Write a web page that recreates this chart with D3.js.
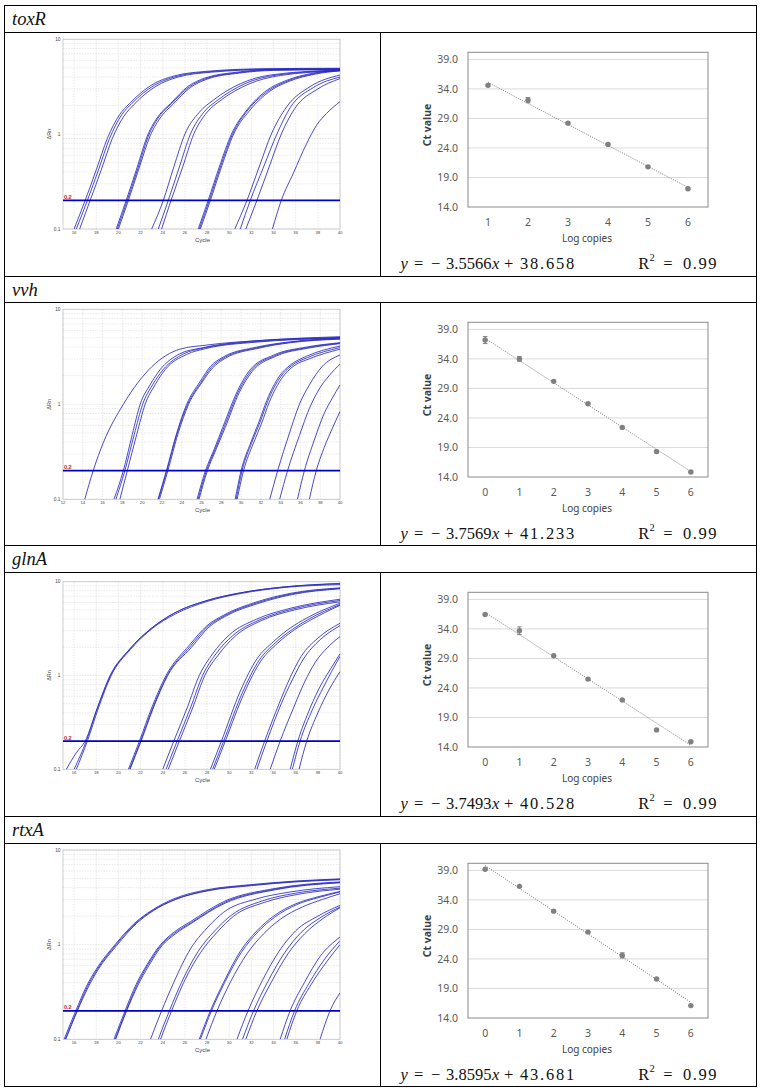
<!DOCTYPE html>
<html><head><meta charset="utf-8">
<script src="https://cdn.jsdelivr.net/npm/d3@7"></script>
<style>body{margin:0;background:#fff;} svg{display:block;}</style>
</head><body>
<svg id="chart" width="760" height="1092"></svg>
<script>
// ---------------- DATA ----------------
const genes = ["toxR", "vvh", "glnA", "rtxA"];

// amplification plots (cycle, ΔRn)
const ampCycleStart = [15, 12, 15, 15];
const ampCycleEnd = 40;
const ampXTicks_toxR = [16,18,20,22,24,26,28,30,32,34,36,38,40];
const ampXTicks_vvh  = [12,14,16,18,20,22,24,26,28,30,32,34,36,38,40];
const ampXTicks_glnA = [16,18,20,22,24,26,28,30,32,34,36,38,40];
const ampXTicks_rtxA = [16,18,20,22,24,26,28,30,32,34,36,38,40];
const ampYTickValues = [0.1, 1, 10];
const ampYTickLabels = ["0.1", "1", "10"];
const threshold = 0.2;
const thresholdLabel = "0.2";

const toxR_curves = [
  [[16.0,0.1],[17.0,0.2],[18.0,0.42],[19.0,0.9],[20.1,1.6],[21.0,2.1],[23.0,3.3],[25.0,4.1],[28.0,4.6],[33.4,4.9],[40,4.95]],
  [[16.2,0.1],[17.2,0.2],[18.2,0.42],[19.2,0.9],[20.3,1.6],[21.2,2.1],[23.2,3.25],[25.2,4.05],[28.2,4.55],[33.5,4.85],[40,4.9]],
  [[16.5,0.1],[17.45,0.2],[18.45,0.42],[19.45,0.9],[20.5,1.55],[21.4,2.05],[23.4,3.2],[25.4,4.0],[28.4,4.5],[33.6,4.8],[40,4.85]],
  [[19.8,0.1],[20.7,0.2],[21.7,0.45],[22.6,0.95],[23.7,1.6],[24.7,2.1],[26.3,3.2],[27.8,3.9],[30.7,4.5],[34,4.8],[40,4.85]],
  [[19.9,0.1],[20.8,0.2],[21.8,0.45],[22.7,0.95],[23.8,1.6],[24.8,2.1],[26.4,3.15],[27.9,3.85],[30.8,4.45],[34,4.75],[40,4.8]],
  [[20.0,0.1],[20.9,0.2],[21.9,0.45],[22.85,0.95],[23.9,1.55],[24.9,2.05],[26.5,3.1],[28.0,3.8],[30.9,4.4],[34,4.7],[40,4.8]],
  [[23.0,0.1],[24.05,0.2],[25.0,0.45],[26.0,1.0],[27.3,1.7],[28.6,2.3],[31.0,3.4],[33.7,4.2],[40,4.75]],
  [[23.6,0.1],[24.5,0.2],[25.5,0.45],[26.5,1.0],[27.7,1.7],[29.0,2.3],[31.4,3.4],[34.3,4.2],[40,4.7]],
  [[23.9,0.1],[24.75,0.2],[25.8,0.45],[26.8,1.0],[28.0,1.7],[29.3,2.3],[31.7,3.35],[34.6,4.15],[40,4.65]],
  [[27.2,0.1],[28.1,0.2],[29.1,0.45],[30.2,1.0],[31.6,1.8],[33.4,2.9],[35.2,3.7],[37.6,4.4],[40,4.75]],
  [[27.3,0.1],[28.2,0.2],[29.2,0.45],[30.3,1.0],[31.7,1.8],[33.5,2.85],[35.3,3.65],[37.7,4.35],[40,4.7]],
  [[27.4,0.1],[28.3,0.2],[29.3,0.45],[30.4,1.0],[31.8,1.75],[33.6,2.8],[35.4,3.6],[37.8,4.3],[40,4.65]],
  [[30.5,0.1],[31.6,0.2],[32.7,0.45],[33.8,1.0],[35.2,1.95],[37.3,3.17],[40,4.2]],
  [[31.0,0.1],[31.9,0.2],[33.1,0.45],[34.3,1.0],[35.5,1.9],[37.6,3.1],[40,4.0]],
  [[31.5,0.1],[32.5,0.2],[33.6,0.45],[34.7,1.0],[35.9,1.85],[38.0,3.0],[40,3.85]],
  [[33.9,0.1],[34.7,0.2],[35.8,0.39],[37.0,0.8],[37.9,1.25],[38.8,1.66],[40,2.2]]
];

const vvh_curves = [
  [[14.2,0.1],[15.05,0.2],[16.1,0.4],[18.1,1.0],[21.0,2.5],[23.8,3.8],[26.5,4.2],[32.6,4.75],[40,5.15]],
  [[17.15,0.1],[18.1,0.2],[19.0,0.48],[19.8,1.0],[20.8,1.6],[21.8,2.3],[23.8,3.4],[25.9,3.9],[30.9,4.6],[40,5.05]],
  [[17.35,0.1],[18.25,0.2],[19.2,0.48],[20.05,1.0],[21.05,1.6],[22.1,2.3],[24.2,3.4],[26.2,3.9],[31.2,4.55],[40,5.0]],
  [[17.75,0.1],[18.5,0.2],[19.45,0.48],[20.3,1.0],[21.3,1.6],[22.3,2.3],[24.5,3.35],[26.4,3.85],[31.4,4.5],[40,4.95]],
  [[21.6,0.1],[22.45,0.2],[23.5,0.5],[24.5,1.0],[25.85,1.73],[26.9,2.5],[28.2,3.15],[31.6,4.0],[35,4.55],[40,4.95]],
  [[21.65,0.1],[22.5,0.2],[23.55,0.5],[24.6,1.0],[25.95,1.7],[27.0,2.45],[28.3,3.1],[31.7,3.95],[35,4.5],[40,4.9]],
  [[21.75,0.1],[22.6,0.2],[23.65,0.5],[24.7,1.0],[26.05,1.7],[27.1,2.4],[28.4,3.05],[31.8,3.9],[35,4.45],[40,4.85]],
  [[25.55,0.1],[26.4,0.2],[27.3,0.34],[28.2,0.59],[29.6,1.36],[30.9,2.3],[33.3,3.3],[36.6,4.0],[40,4.45]],
  [[25.65,0.1],[26.5,0.2],[27.4,0.34],[28.3,0.58],[29.7,1.34],[31.0,2.25],[33.4,3.25],[36.7,3.95],[40,4.4]],
  [[25.75,0.1],[26.6,0.2],[27.5,0.34],[28.4,0.57],[29.8,1.32],[31.1,2.2],[33.5,3.2],[36.8,3.9],[40,4.35]],
  [[29.4,0.1],[30.0,0.2],[31.0,0.4],[31.8,0.65],[32.6,1.1],[33.9,2.0],[35.0,2.6],[36.6,3.2],[40,4.1]],
  [[29.5,0.1],[30.1,0.2],[31.1,0.4],[31.9,0.64],[32.7,1.08],[34.0,1.95],[35.1,2.55],[36.7,3.1],[40,3.95]],
  [[29.6,0.1],[30.25,0.2],[31.25,0.39],[32.05,0.62],[32.85,1.05],[34.15,1.9],[35.25,2.5],[36.85,3.0],[40,3.8]],
  [[32.9,0.1],[33.7,0.2],[34.9,0.5],[35.9,1.0],[36.9,1.6],[38.2,2.5],[40,3.3]],
  [[33.9,0.1],[34.7,0.2],[35.9,0.47],[36.9,0.9],[37.9,1.45],[38.9,2.0],[40,2.65]],
  [[35.7,0.1],[36.4,0.2],[37.4,0.42],[38.4,0.8],[39.2,1.15],[40,1.6]],
  [[36.9,0.1],[37.6,0.2],[38.4,0.35],[39.2,0.55],[40,0.84]]
];

const glnA_curves = [
  [[15.3,0.1],[16.2,0.15],[17.0,0.2],[18.1,0.45],[19.3,1.0],[21.0,1.9],[23.0,3.2],[25.0,4.6],[28.0,6.3],[31.0,7.6],[35.0,8.8],[40,9.6]],
  [[16.0,0.1],[17.1,0.2],[18.1,0.45],[19.25,1.0],[21.0,1.9],[23.0,3.2],[25.0,4.6],[28.0,6.3],[31.0,7.6],[35.0,8.8],[40,9.5]],
  [[16.2,0.1],[17.2,0.2],[18.2,0.45],[19.35,1.0],[21.1,1.9],[23.1,3.2],[25.1,4.5],[28.1,6.2],[31.1,7.5],[35.1,8.7],[40,9.3]],
  [[20.9,0.1],[21.9,0.2],[23.0,0.45],[24.3,1.0],[26.4,2.1],[28.0,3.4],[29.5,4.4],[32.5,6.1],[35.5,7.5],[40,8.6]],
  [[21.0,0.1],[22.0,0.2],[23.1,0.45],[24.4,1.0],[26.5,2.05],[28.1,3.35],[29.6,4.35],[32.6,6.0],[35.6,7.4],[40,8.5]],
  [[21.05,0.1],[22.05,0.2],[23.15,0.45],[24.45,1.0],[26.6,2.0],[28.2,3.3],[29.7,4.3],[32.7,5.9],[35.7,7.3],[40,8.4]],
  [[24.0,0.1],[25.0,0.2],[26.2,0.45],[27.3,1.0],[28.5,1.7],[30.0,2.7],[32.5,4.0],[35.5,5.2],[40,6.5]],
  [[24.3,0.1],[25.3,0.2],[26.5,0.45],[27.6,1.0],[28.8,1.7],[30.3,2.65],[32.7,3.9],[35.7,5.1],[40,6.3]],
  [[24.5,0.1],[25.5,0.2],[26.7,0.45],[27.8,1.0],[29.0,1.65],[30.5,2.6],[32.9,3.85],[35.9,5.0],[40,6.1]],
  [[28.3,0.1],[29.3,0.2],[31.0,0.68],[32.5,1.5],[34.0,2.3],[35.5,3.2],[37.0,4.1],[40,5.9]],
  [[28.5,0.1],[29.5,0.2],[31.2,0.66],[32.7,1.45],[34.2,2.25],[35.7,3.1],[37.2,4.0],[40,5.7]],
  [[28.65,0.1],[29.65,0.2],[31.35,0.65],[32.85,1.42],[34.35,2.2],[35.85,3.05],[37.35,3.9],[40,5.6]],
  [[32.3,0.1],[33.2,0.2],[34.5,0.5],[35.5,0.95],[36.5,1.6],[38.0,2.5],[40,3.6]],
  [[32.5,0.1],[33.4,0.2],[34.7,0.5],[35.7,0.9],[36.7,1.5],[38.2,2.4],[40,3.4]],
  [[33.7,0.1],[34.6,0.2],[35.8,0.45],[36.8,0.85],[37.8,1.4],[38.9,2.0],[40,2.6]],
  [[35.5,0.1],[36.2,0.2],[37.3,0.45],[38.3,0.8],[39.2,1.2],[40,1.7]],
  [[35.7,0.1],[36.4,0.2],[37.5,0.43],[38.5,0.75],[40,1.6]],
  [[36.3,0.1],[37.0,0.2],[38.0,0.4],[39.0,0.7],[40,1.1]]
];

const rtxA_curves = [
  [[15.1,0.1],[16.15,0.2],[17.1,0.36],[18.0,0.55],[19.7,1.0],[21.5,1.7],[23.0,2.3],[25.0,3.05],[28.0,3.8],[31.9,4.3],[36,4.7],[40,4.95]],
  [[15.2,0.1],[16.25,0.2],[17.2,0.36],[18.1,0.55],[19.8,1.0],[21.6,1.7],[23.1,2.3],[25.1,3.0],[28.1,3.75],[32.0,4.25],[36,4.65],[40,4.9]],
  [[15.25,0.1],[16.3,0.2],[17.25,0.35],[18.15,0.54],[19.85,0.98],[21.65,1.68],[23.15,2.28],[25.15,3.0],[28.15,3.72],[32.0,4.2],[36,4.6],[40,4.85]],
  [[19.6,0.1],[20.6,0.2],[21.6,0.38],[22.6,0.62],[23.8,1.0],[25.0,1.35],[26.5,1.75],[29.5,2.85],[34.0,3.9],[40,4.6]],
  [[19.7,0.1],[20.7,0.2],[21.7,0.38],[22.7,0.62],[23.9,1.0],[25.1,1.33],[26.6,1.72],[29.6,2.8],[34.1,3.85],[40,4.55]],
  [[19.75,0.1],[20.75,0.2],[21.75,0.37],[22.75,0.6],[23.95,0.98],[25.15,1.3],[26.65,1.7],[29.65,2.75],[34.15,3.8],[40,4.5]],
  [[22.9,0.1],[23.9,0.2],[25.0,0.4],[26.5,0.9],[28.0,1.5],[29.5,2.2],[32.5,3.05],[35.5,3.6],[40,4.1]],
  [[23.6,0.1],[24.6,0.2],[25.7,0.4],[27.2,0.85],[28.7,1.4],[30.2,2.05],[33.0,2.9],[36.0,3.5],[40,3.95]],
  [[23.8,0.1],[24.8,0.2],[25.9,0.4],[27.4,0.82],[28.9,1.35],[30.4,2.0],[33.2,2.8],[36.2,3.4],[40,3.85]],
  [[27.3,0.1],[28.3,0.2],[29.5,0.4],[31.0,0.85],[32.5,1.4],[34.0,2.0],[36.0,2.7],[38.0,3.2],[40,3.65]],
  [[27.4,0.1],[28.4,0.2],[29.6,0.4],[31.1,0.83],[32.6,1.37],[34.1,1.95],[36.1,2.65],[38.1,3.15],[40,3.6]],
  [[27.9,0.1],[28.9,0.2],[30.1,0.4],[31.6,0.8],[33.1,1.3],[34.6,1.85],[36.6,2.5],[38.4,3.0],[40,3.45]],
  [[30.7,0.1],[31.7,0.2],[33.0,0.42],[34.5,0.85],[36.0,1.4],[38.0,2.0],[40,2.6]],
  [[31.2,0.1],[32.2,0.2],[33.5,0.41],[35.0,0.82],[36.5,1.35],[38.3,1.95],[40,2.5]],
  [[31.5,0.1],[32.5,0.2],[33.8,0.4],[35.3,0.8],[36.8,1.3],[38.5,1.9],[40,2.45]],
  [[34.6,0.1],[35.5,0.2],[36.8,0.4],[38.2,0.75],[40,1.2]],
  [[35.0,0.1],[35.9,0.2],[37.2,0.39],[38.6,0.7],[40,1.1]],
  [[35.2,0.1],[36.1,0.2],[37.4,0.38],[38.8,0.66],[40,1.0]],
  [[38.2,0.1],[39.1,0.2],[40,0.31]]
];

// standard curves
const logCopies_toxR = [1, 2, 3, 4, 5, 6];
const logCopies_vvh  = [0, 1, 2, 3, 4, 5, 6];
const logCopies_glnA = [0, 1, 2, 3, 4, 5, 6];
const logCopies_rtxA = [0, 1, 2, 3, 4, 5, 6];
const ct_toxR = [34.6, 32.1, 28.2, 24.6, 20.8, 17.1];
const ct_vvh  = [37.2, 34.0, 30.2, 26.4, 22.4, 18.3, 14.85];
const ct_glnA = [36.45, 33.7, 29.45, 25.5, 21.95, 16.9, 14.9];
const ct_rtxA = [39.2, 36.3, 32.1, 28.55, 24.6, 20.6, 16.1];
const ctErr_toxR = [0.2, 0.45, 0.15, 0.15, 0.1, 0.1];
const ctErr_vvh  = [0.6, 0.4, 0.1, 0.1, 0.1, 0.25, 0.1];
const ctErr_glnA = [0.15, 0.65, 0.1, 0.1, 0.1, 0.1, 0.1];
const ctErr_rtxA = [0.1, 0.1, 0.1, 0.1, 0.45, 0.1, 0.1];
const slopes = [-3.5566, -3.7569, -3.7493, -3.8595];
const intercepts = [38.658, 41.233, 40.528, 43.681];
const r2Values = [0.99, 0.99, 0.99, 0.99];
const stdYTicks = [14, 19, 24, 29, 34, 39];
const stdYMin = 14, stdYMax = 40.2;
const stdXTitle = "Log copies";
const stdYTitle = "Ct value";

// ---------------- LAYOUT ----------------
const svg = d3.select("#chart");
const headerTops = [5, 276, 545, 816];
const contentTops = [32, 302, 572, 843];
const contentBottoms = [276, 545, 816, 1086];
const ampTopOff = [7.3, 7.3, 9.7, 7.0];
const ampBotOff = [197.0, 197.3, 197.3, 196.3];
const ampLeft = 63, ampRight = 340;
const stdLeft = 468, stdRight = 708, stdTopOff = 20.3, stdBotOff = 175;

const ampData = [toxR_curves, vvh_curves, glnA_curves, rtxA_curves];
const ampTicks = [ampXTicks_toxR, ampXTicks_vvh, ampXTicks_glnA, ampXTicks_rtxA];
const stdX = [logCopies_toxR, logCopies_vvh, logCopies_glnA, logCopies_rtxA];
const stdCt = [ct_toxR, ct_vvh, ct_glnA, ct_rtxA];
const stdErr = [ctErr_toxR, ctErr_vvh, ctErr_glnA, ctErr_rtxA];

svg.append("rect").attr("width", 760).attr("height", 1092).attr("fill", "#fff");
const defs = svg.append("defs");

function drawAmp(i) {
  const top = contentTops[i] + ampTopOff[i];
  const bottom = contentTops[i] + ampBotOff[i];
  const x = d3.scaleLinear().domain([ampCycleStart[i], ampCycleEnd]).range([ampLeft, ampRight]);
  const y = d3.scaleLog().domain([0.1, 10]).range([bottom, top]);
  const g = svg.append("g");

  g.append("rect").attr("x", ampLeft).attr("y", top).attr("width", ampRight - ampLeft)
    .attr("height", bottom - top).attr("fill", "#fff");

  g.append("g").selectAll("line").data(y.ticks()).join("line")
    .attr("x1", ampLeft).attr("x2", ampRight)
    .attr("y1", d => y(d)).attr("y2", d => y(d))
    .attr("stroke", "#d6d6d6").attr("stroke-width", 0.6).attr("stroke-dasharray", "1.5,1.2");
  g.append("g").selectAll("line").data(ampTicks[i]).join("line")
    .attr("x1", d => x(d)).attr("x2", d => x(d))
    .attr("y1", top).attr("y2", bottom)
    .attr("stroke", "#d6d6d6").attr("stroke-width", 0.6).attr("stroke-dasharray", "1.5,1.2");

  g.append("rect").attr("x", ampLeft).attr("y", top).attr("width", ampRight - ampLeft)
    .attr("height", bottom - top).attr("fill", "none").attr("stroke", "#c4c4c4").attr("stroke-width", 0.8);

  const clipId = "ampclip" + i;
  defs.append("clipPath").attr("id", clipId).append("rect")
    .attr("x", ampLeft).attr("y", top).attr("width", ampRight - ampLeft).attr("height", bottom - top);

  const line = d3.line().x(d => x(d[0])).y(d => y(d[1])).curve(d3.curveMonotoneX);
  g.append("g").attr("clip-path", `url(#${clipId})`)
    .selectAll("path").data(ampData[i]).join("path")
    .attr("d", line).attr("fill", "none")
    .attr("stroke", "#2a2ac0").attr("stroke-width", 0.85);

  g.append("line").attr("x1", ampLeft).attr("x2", ampRight)
    .attr("y1", y(threshold)).attr("y2", y(threshold))
    .attr("stroke", "#0000c8").attr("stroke-width", 1.8);
  g.append("text").attr("x", ampLeft + 1).attr("y", y(threshold) - 1.5)
    .attr("font-family", "Liberation Sans, Arial, sans-serif").attr("font-size", 5.5)
    .attr("font-weight", "bold").attr("fill", "#cc2020").text(thresholdLabel);

  g.append("g").selectAll("text").data(ampYTickValues).join("text")
    .attr("x", ampLeft - 2.5).attr("y", d => y(d)).attr("dy", "0.35em")
    .attr("text-anchor", "end")
    .attr("font-family", "Liberation Sans, Arial, sans-serif").attr("font-size", 4.8)
    .attr("fill", "#444").text((d, k) => ampYTickLabels[k]);
  g.append("g").selectAll("text").data(ampTicks[i]).join("text")
    .attr("x", d => x(d)).attr("y", bottom + 5)
    .attr("text-anchor", "middle")
    .attr("font-family", "Liberation Sans, Arial, sans-serif").attr("font-size", 4.2)
    .attr("fill", "#444").text(d => d);
  g.append("text").attr("x", (ampLeft + ampRight) / 2 + 1).attr("y", bottom + 12.5)
    .attr("text-anchor", "middle")
    .attr("font-family", "Liberation Sans, Arial, sans-serif").attr("font-size", 6)
    .attr("fill", "#444").text("Cycle");
  g.append("text").attr("transform", `translate(50.5,${(top + bottom) / 2}) rotate(-90)`)
    .attr("text-anchor", "middle")
    .attr("font-family", "Liberation Sans, Arial, sans-serif").attr("font-size", 5.5)
    .attr("fill", "#444").text("ΔRn");
}

function drawStd(i) {
  const top = contentTops[i] + stdTopOff;
  const bottom = contentTops[i] + stdBotOff;
  const xs = stdX[i];
  const x = d3.scalePoint().domain(xs).range([stdLeft, stdRight]).padding(0.5);
  const y = d3.scaleLinear().domain([stdYMin, stdYMax]).range([bottom, top]);
  const g = svg.append("g");
  const font = "Noto Sans, Open Sans, sans-serif";

  g.append("g").selectAll("line").data(stdYTicks.slice(1)).join("line")
    .attr("x1", stdLeft).attr("x2", stdRight)
    .attr("y1", d => y(d)).attr("y2", d => y(d))
    .attr("stroke", "#d9d9d9").attr("stroke-width", 1);
  g.append("rect").attr("x", stdLeft).attr("y", top).attr("width", stdRight - stdLeft)
    .attr("height", bottom - top).attr("fill", "none").attr("stroke", "#8a8a8a").attr("stroke-width", 1);

  g.append("g").selectAll("text").data(stdYTicks).join("text")
    .attr("x", stdLeft - 10).attr("y", d => y(d)).attr("dy", "0.36em")
    .attr("text-anchor", "end").attr("font-family", font).attr("font-size", 10.5)
    .attr("fill", "#595959").text(d => d3.format(".1f")(d));
  g.append("g").selectAll("text").data(xs).join("text")
    .attr("x", d => x(d)).attr("y", bottom + 19)
    .attr("text-anchor", "middle").attr("font-family", font).attr("font-size", 10.5)
    .attr("fill", "#595959").text(d => d);
  g.append("text").attr("x", (stdLeft + stdRight) / 2 - 1).attr("y", bottom + 34.5)
    .attr("text-anchor", "middle").attr("font-family", font).attr("font-size", 10)
    .attr("fill", "#404040").text(stdXTitle);
  g.append("text").attr("transform", `translate(431,${contentTops[i] + 93}) rotate(-90)`)
    .attr("text-anchor", "middle").attr("font-family", font).attr("font-size", 10.5)
    .attr("font-weight", "bold").attr("fill", "#404040").text(stdYTitle);

  const n = xs.length;
  const tl = [[xs[0], slopes[i] * 1 + intercepts[i]], [xs[n - 1], slopes[i] * n + intercepts[i]]];
  g.append("line").attr("x1", x(tl[0][0])).attr("y1", y(tl[0][1]))
    .attr("x2", x(tl[1][0])).attr("y2", y(tl[1][1]))
    .attr("stroke", "#8c8c8c").attr("stroke-width", 1).attr("stroke-dasharray", "1.2,1.2");

  const pts = xs.map((v, k) => ({ x: v, ct: stdCt[i][k], e: stdErr[i][k] }));
  const eb = g.append("g").attr("stroke", "#7a7a7a").attr("stroke-width", 0.9);
  eb.selectAll(".v").data(pts).join("line")
    .attr("x1", d => x(d.x)).attr("x2", d => x(d.x))
    .attr("y1", d => y(d.ct - d.e)).attr("y2", d => y(d.ct + d.e));
  eb.selectAll(".t").data(pts).join("line")
    .attr("x1", d => x(d.x) - 2.3).attr("x2", d => x(d.x) + 2.3)
    .attr("y1", d => y(d.ct + d.e)).attr("y2", d => y(d.ct + d.e));
  eb.selectAll(".b").data(pts).join("line")
    .attr("x1", d => x(d.x) - 2.3).attr("x2", d => x(d.x) + 2.3)
    .attr("y1", d => y(d.ct - d.e)).attr("y2", d => y(d.ct - d.e));
  g.append("g").selectAll("circle").data(pts).join("circle")
    .attr("cx", d => x(d.x)).attr("cy", d => y(d.ct)).attr("r", 2.7)
    .attr("fill", "#808080");

  // equation
  const base = contentTops[i] + 236.5;
  const serif = "Liberation Serif, Times New Roman, serif";
  const tokens = [
    { t: "y", x: 400.5, it: true },
    { t: "=", x: 414 },
    { t: "\u2212", x: 431 },
    { t: Math.abs(slopes[i]).toFixed(4), x: 446 },
    { t: "x", x: 492, it: true },
    { t: "+", x: 504 },
    { t: intercepts[i].toFixed(3), x: 520, ls: 1.8 },
    { t: "R", x: 638.3 },
    { t: "=", x: 663.3 },
    { t: r2Values[i].toFixed(2), x: 683, ls: 1.5 }
  ];
  tokens.forEach(tk => {
    const te = g.append("text").attr("x", tk.x).attr("y", base)
      .attr("font-family", serif).attr("font-size", 16.5).attr("fill", "#111")
      .attr("font-style", tk.it ? "italic" : "normal").text(tk.t);
    if (tk.ls) te.attr("letter-spacing", tk.ls);
  });
  g.append("text").attr("x", 649.6).attr("y", base - 7.5)
    .attr("font-family", serif).attr("font-size", 10.5).attr("fill", "#111").text("2");
}

for (let i = 0; i < 4; i++) {
  drawAmp(i);
  drawStd(i);
  svg.append("text").attr("x", 12).attr("y", headerTops[i] + 20)
    .attr("font-family", "Liberation Serif, Times New Roman, serif")
    .attr("font-style", "italic").attr("font-size", 18.5).attr("fill", "#111")
    .text(genes[i]);
}

// table lines
const tg = svg.append("g").attr("stroke", "#000").attr("stroke-width", 1).attr("shape-rendering", "crispEdges");
const hLines = [5, 32, 276, 302, 545, 572, 816, 843, 1086];
tg.selectAll(".h").data(hLines).join("line")
  .attr("x1", 4).attr("x2", 757).attr("y1", d => d + 0.5).attr("y2", d => d + 0.5);
tg.append("line").attr("x1", 4.5).attr("x2", 4.5).attr("y1", 5).attr("y2", 1087);
tg.append("line").attr("x1", 756.5).attr("x2", 756.5).attr("y1", 5).attr("y2", 1087);
tg.selectAll(".v").data(contentTops).join("line")
  .attr("x1", 380.5).attr("x2", 380.5)
  .attr("y1", (d) => d + 0.5).attr("y2", (d, k) => contentBottoms[k] + 0.5);
</script>
</body></html>
